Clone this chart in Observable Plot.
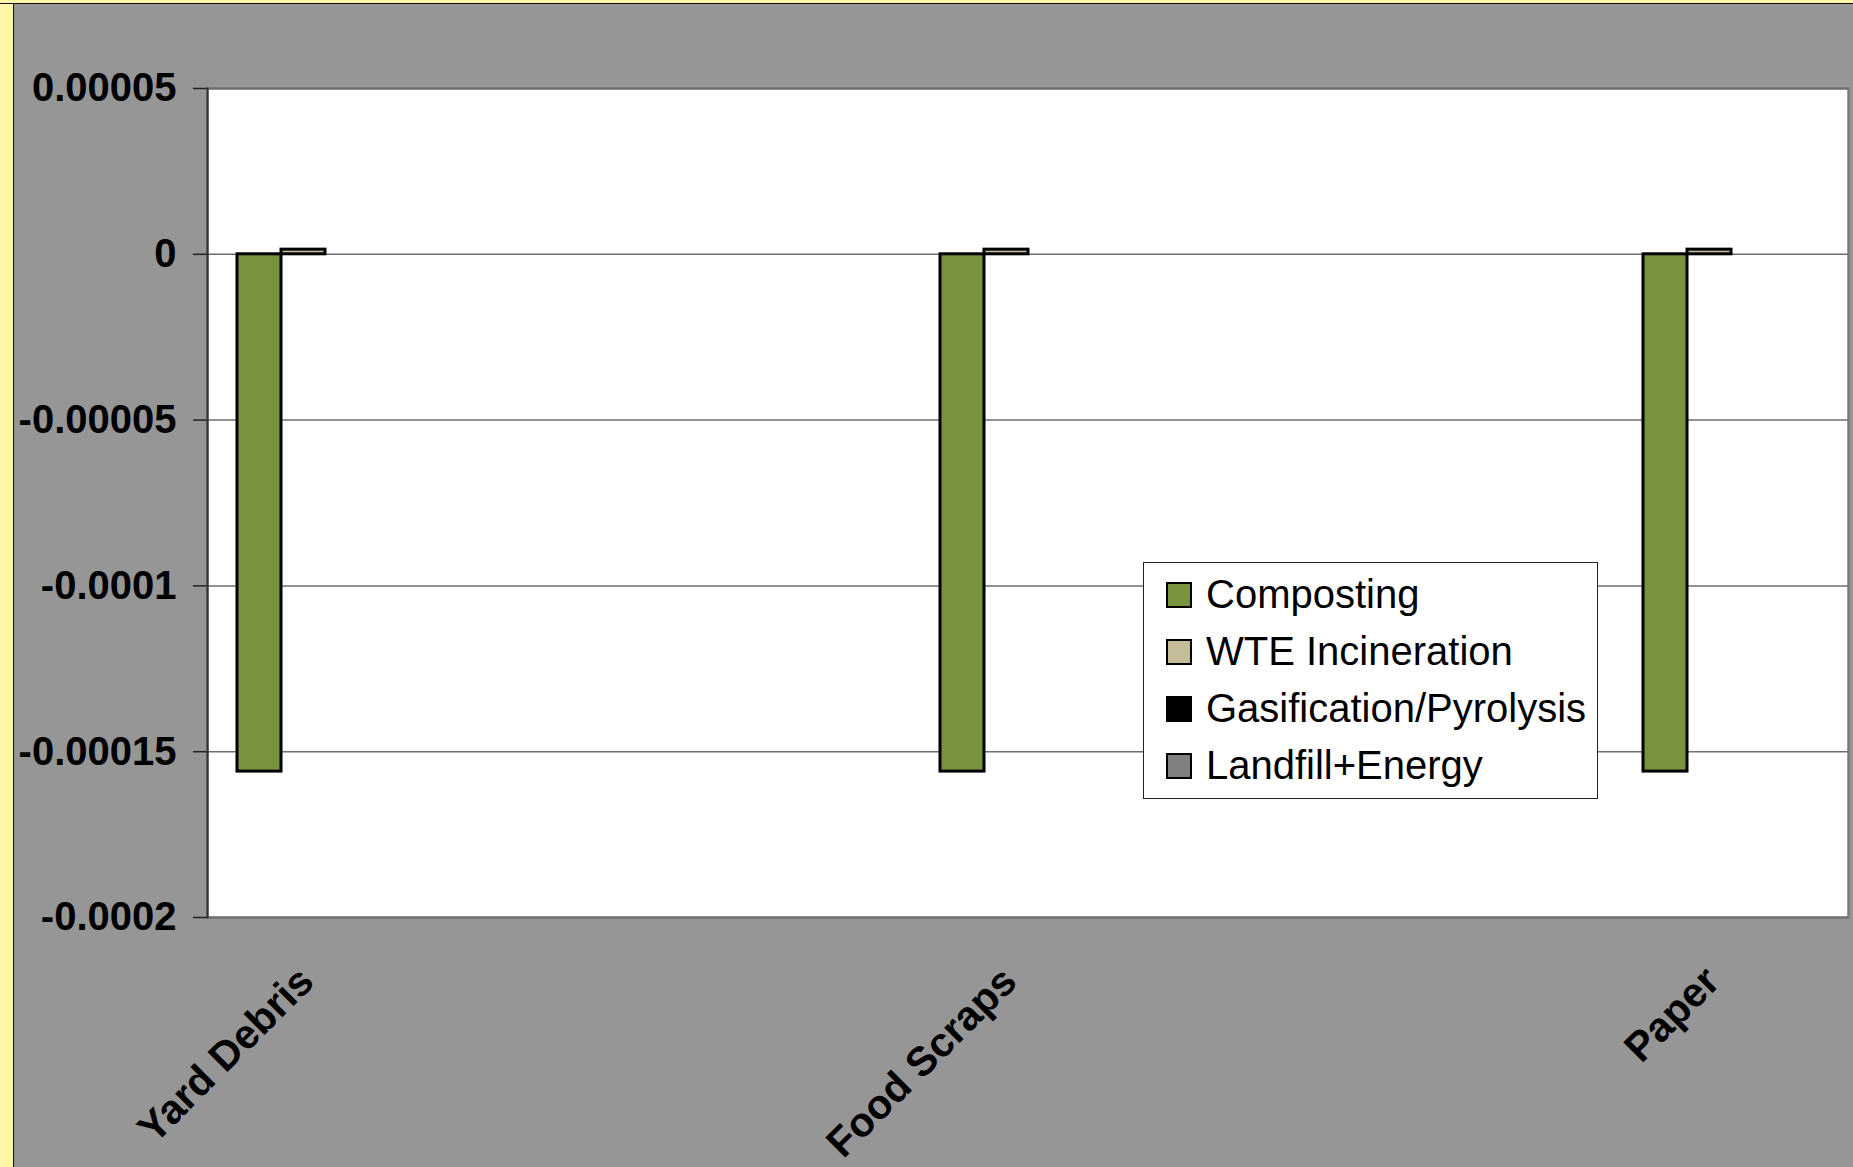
<!DOCTYPE html>
<html>
<head>
<meta charset="utf-8">
<script src="https://cdn.jsdelivr.net/npm/d3@7"></script>
<script src="https://cdn.jsdelivr.net/npm/@observablehq/plot@0.6"></script>
<style>
  html, body { margin: 0; padding: 0; background: #969696; }
  #wrap { position: relative; width: 1853px; height: 1167px; overflow: hidden; }
  .layer { position: absolute; left: 0; top: 0; }
  .layer svg { display: block; }
  .strip-left { position: absolute; left: 0; top: 0; width: 13px; height: 1167px; background: #FFF5A8; border-right: 1.5px solid #111; }
  .strip-top { position: absolute; left: 0; top: 0; width: 1853px; height: 3px; background: #FFF5A8; border-bottom: 1.5px solid #111; }
  .legend {
    position: absolute; left: 1143px; top: 562px; width: 453px; height: 232px;
    background: #fff; border: 1.5px solid #222; box-sizing: content-box;
    font-family: "Liberation Sans", Arial, sans-serif; font-size: 40px; color: #000;
    padding-top: 3px;
  }
  .legend .row { display: flex; align-items: center; height: 57px; padding-left: 22px; }
  .legend .sw { width: 22px; height: 22px; border: 2.5px solid #000; margin-right: 14px; flex: none; }
  .legend .lab { white-space: nowrap; }
</style>
</head>
<body>
<div id="wrap">
  <div id="back" class="layer"></div>
  <div id="front" class="layer"></div>
  <div class="strip-left"></div>
  <div class="strip-top"></div>
  <div class="legend" id="legend"></div>
</div>
<script>
// ---- data ----
const categories = ["Yard Debris", "Food Scraps", "Paper"];
const series = ["Composting", "WTE Incineration", "Gasification/Pyrolysis", "Landfill+Energy"];
const composting = [-0.000156, -0.000156, -0.000156];
const wteIncineration = [0.0000014, 0.0000014, 0.0000014];
const gasificationPyrolysis = [0, 0, 0];
const landfillEnergy = [0, 0, 0];
const yTicks = [0.00005, 0, -0.00005, -0.0001, -0.00015, -0.0002];
const yTickLabels = ["0.00005", "0", "-0.00005", "-0.0001", "-0.00015", "-0.0002"];
const seriesColors = ["#77933C", "#C4BD97", "#000000", "#808080"];

const seriesValues = [composting, wteIncineration, gasificationPyrolysis, landfillEnergy];
const data = categories.flatMap((c, i) =>
  series.map((s, j) => ({category: c, series: s, value: seriesValues[j][i]}))
);

const font = "'Liberation Sans', Arial, sans-serif";
const dims = {width: 1853, height: 1167, marginLeft: 207, marginRight: 5, marginTop: 88, marginBottom: 250};
const yScale = {domain: [-0.0002, 0.00005], label: null};

// background layer: plot area, gridlines, value axis
const back = Plot.plot({
  ...dims,
  style: {background: "#969696", fontFamily: font, color: "#000"},
  y: yScale,
  marks: [
    Plot.frame({fill: "white", stroke: "#7a7a7a", strokeWidth: 2.5}),
    Plot.ruleY(yTicks, {stroke: "#6e6e6e", strokeWidth: 1.5}),
    Plot.axisY({
      ticks: yTicks,
      tickFormat: d => yTickLabels[yTicks.indexOf(d)],
      tickSize: 14,
      tickPadding: 17,
      fontSize: 40,
      fontWeight: "bold",
      stroke: "#222",
      strokeWidth: 1.5,
      label: null
    }),
    Plot.frame({anchor: "left", stroke: "#333", strokeWidth: 2})
  ]
});
document.getElementById("back").appendChild(back);

// front layer: clustered bars and category labels
const front = Plot.plot({
  ...dims,
  style: {background: "transparent", fontFamily: font, color: "#000", overflow: "visible"},
  fx: {domain: categories, paddingInner: 0.75, paddingOuter: 0.0413, align: 0.5, label: null},
  x: {domain: series, padding: 0, axis: null},
  y: {...yScale, axis: null},
  color: {domain: series, range: seriesColors},
  marks: [
    Plot.barY(data.filter(d => d.value !== 0), {
      fx: "category",
      x: "series",
      y: "value",
      fill: "series",
      stroke: "#000",
      strokeWidth: 3
    }),
    Plot.axisFx({
      anchor: "bottom",
      tickSize: 0,
      tickPadding: 57,
      tickRotate: -45,
      fontSize: 41,
      fontWeight: "bold",
      dx: -19,
      label: null
    })
  ]
});
document.getElementById("front").appendChild(front);

// legend (inside the plot area, as in the reference)
const legend = document.getElementById("legend");
series.forEach((s, i) => {
  const row = document.createElement("div");
  row.className = "row";
  const sw = document.createElement("div");
  sw.className = "sw";
  sw.style.background = seriesColors[i];
  const lab = document.createElement("span");
  lab.className = "lab";
  lab.textContent = s;
  row.appendChild(sw);
  row.appendChild(lab);
  legend.appendChild(row);
});
</script>
</body>
</html>
